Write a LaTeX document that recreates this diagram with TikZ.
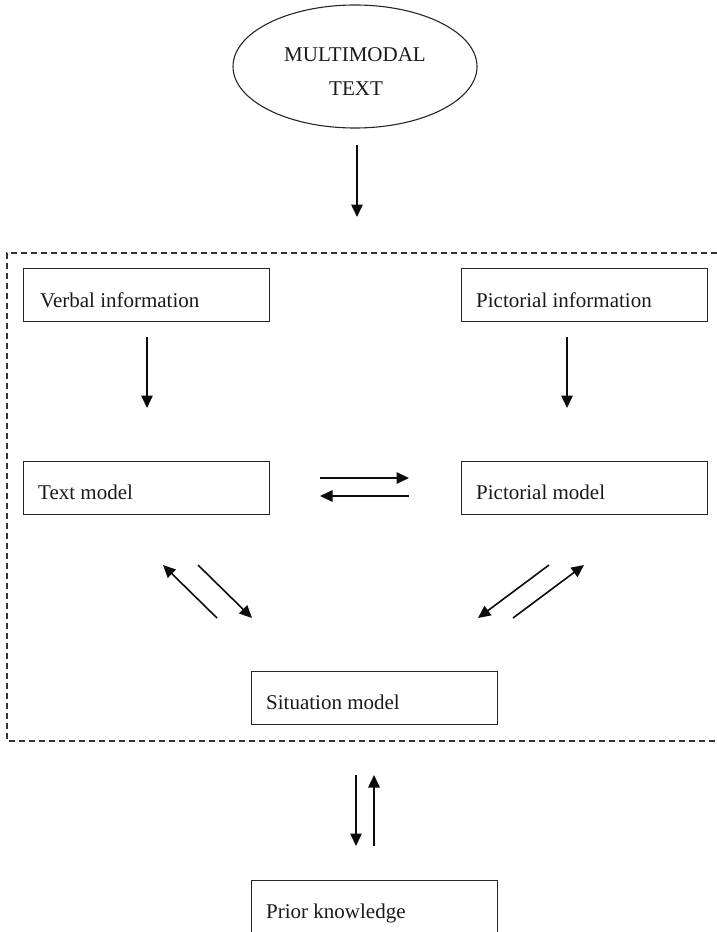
\documentclass[tikz,border=0pt]{standalone}
\usepackage{fontspec}
\setmainfont{Liberation Serif}
\usetikzlibrary{arrows.meta,shapes.geometric}
\begin{document}
\begin{tikzpicture}[x=1pt,y=-1pt,
  box/.style={draw=black!85,line width=1.1pt,rectangle,minimum width=246pt,minimum height=53pt,inner sep=0pt,anchor=north west},
  lbl/.style={anchor=base west,inner sep=0pt,font=\fontsize{21}{25}\selectfont,text=black!90},
  clbl/.style={anchor=base,inner sep=0pt,font=\fontsize{21}{25}\selectfont,text=black!90},
  arr/.style={line width=1.6pt,draw=black!95,-{Triangle[length=12.5pt,width=11.5pt]}},
  dashbox/.style={line width=1.2pt,draw=black!80,dash pattern=on 6pt off 4pt}]
\useasboundingbox (0,0) rectangle (717,932);

% ellipse
\node[draw=black!85,line width=1.1pt,ellipse,minimum width=244pt,minimum height=123pt,inner sep=0pt] (mt) at (355,66.5) {};
\node[clbl] (mt1) at (355,61) {MULTIMODAL};
\node[clbl] (mt2) at (356,95) {TEXT};

% dashed frame
\coordinate (fa) at (717,253);
\coordinate (fb) at (7,253);
\coordinate (fc) at (7,741);
\coordinate (fd) at (717,741);
\draw[dashbox] (fa) -- (fb) -- (fc) -- (fd);

% boxes
\node[box] (vb) at (23,268) {};
\node[lbl] (vbt) at (40,307) {Verbal information};
\node[box] (pb) at (461,268) {};
\node[lbl] (pbt) at (476,307) {Pictorial information};
\node[box] (tm) at (23,461) {};
\node[lbl] (tmt) at (38,499) {Text model};
\node[box] (pm) at (461,461) {};
\node[lbl] (pmt) at (476,499) {Pictorial model};
\node[box] (sm) at (251,671) {};
\node[lbl] (smt) at (266,709) {Situation model};
\node[box] (pk) at (251,880) {};
\node[lbl] (pkt) at (266,918) {Prior knowledge};

% arrow endpoints
\coordinate (a1s) at (357,145); \coordinate (a1e) at (357,217);
\coordinate (a2s) at (147,337); \coordinate (a2e) at (147,408);
\coordinate (a3s) at (567,337); \coordinate (a3e) at (567,408);
\coordinate (h1s) at (320,478); \coordinate (h1e) at (409,478);
\coordinate (h2s) at (409,496); \coordinate (h2e) at (320,496);
\coordinate (d1s) at (217,618); \coordinate (d1e) at (163,565);
\coordinate (d2s) at (198,565); \coordinate (d2e) at (252,618);
\coordinate (d3s) at (549,565); \coordinate (d3e) at (478,618);
\coordinate (d4s) at (513,618); \coordinate (d4e) at (584,565);
\coordinate (v1s) at (356,775); \coordinate (v1e) at (356,846);
\coordinate (v2s) at (374,846); \coordinate (v2e) at (374,775);

\draw[arr] (a1s) -- (a1e);
\draw[arr] (a2s) -- (a2e);
\draw[arr] (a3s) -- (a3e);
\draw[arr] (h1s) -- (h1e);
\draw[arr] (h2s) -- (h2e);
\draw[arr] (d1s) -- (d1e);
\draw[arr] (d2s) -- (d2e);
\draw[arr] (d3s) -- (d3e);
\draw[arr] (d4s) -- (d4e);
\draw[arr] (v1s) -- (v1e);
\draw[arr] (v2s) -- (v2e);
\end{tikzpicture}
\end{document}
